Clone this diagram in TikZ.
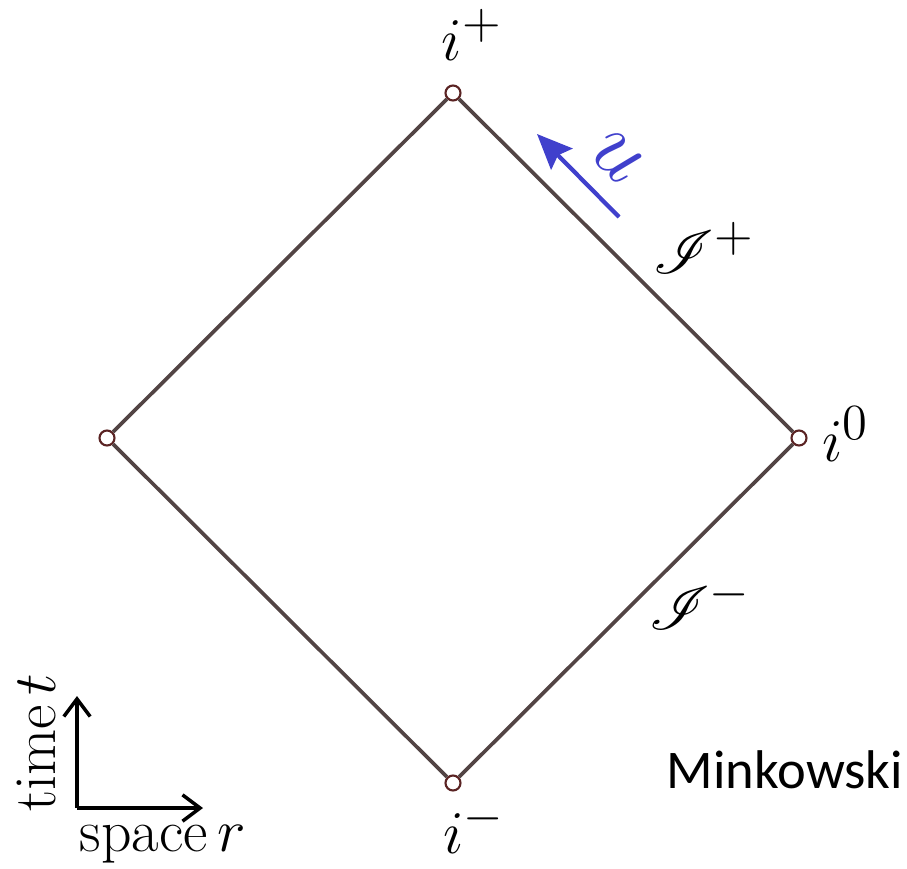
\documentclass[tikz,border=0pt]{standalone}
\usepackage{amsmath}
\usepackage{mathrsfs}
\usepackage{fontspec}
\newfontfamily\minkfont{Carlito}
\usepackage{xcolor}
\usepackage{tikz}
\usetikzlibrary{arrows.meta,positioning}
\definecolor{edgecol}{RGB}{82,68,68}
\definecolor{dotcol}{RGB}{90,35,35}
\definecolor{ucol}{RGB}{64,64,204}

\begin{document}
\begin{tikzpicture}[
  vert/.style={circle, draw=dotcol, fill=white, line width=0.6pt,
               inner sep=0pt, minimum size=0.15cm},
  edge/.style={draw=edgecol, line width=1.05pt},
  lbl/.style={font=\fontsize{19}{23}\selectfont, inner sep=0pt},
  axlbl/.style={font=\fontsize{17}{20}\selectfont, inner sep=0pt},
  axarr/.style={-{Straight Barb[length=5pt,width=7.5pt]}, line width=1pt},
  uarr/.style={-{Stealth[length=10pt,width=8.5pt,inset=1.5pt]}, ucol, line width=1.2pt}
]
\useasboundingbox (0,0) rectangle (9.07,8.68);
% vertices of the diagram
\node[vert] (top)   at (4.53,7.75) {};
\node[vert] (left)  at (1.07,4.30) {};
\node[vert] (right) at (7.99,4.30) {};
\node[vert] (bot)   at (4.53,0.85) {};
\draw[edge] (top)--(right);
\draw[edge] (right)--(bot);
\draw[edge] (bot)--(left);
\draw[edge] (left)--(top);
% labels
\node[lbl] (iplus)  at (4.72,8.33) {$i^+$};
\node[lbl] (izero)  at (8.46,4.34) {$i^0$};
\node[lbl] (iminus) at (4.74,0.40) {$i^-$};
\node[lbl] (scrip)  at (7.04,6.20) {$\mathscr{I}^+$};
\node[lbl] (scrim)  at (7.00,2.64) {$\mathscr{I}^-$};
% null direction u
\coordinate (ustart) at (6.19,6.51);
\coordinate (uend)   at (5.37,7.34);
\draw[uarr] (ustart)--(uend);
\node[lbl, font=\fontsize{25}{29}\selectfont, ucol, rotate=-45] (ulbl) at (6.17,7.11) {$u$};
% axes
\coordinate (orig) at (0.77,0.60);
\coordinate (tend) at (0.77,1.72);
\coordinate (rend) at (2.03,0.60);
\draw[axarr] (orig)--(tend);
\draw[axarr] (orig)--(rend);
\node[axlbl, rotate=90] (tlbl) at (0.36,1.25) {time\,$t$};
\node[axlbl] (rlbl) at (1.63,0.24) {space\,$r$};
\node[font=\minkfont\fontsize{15.5}{18}\selectfont, inner sep=0pt] (mink) at (7.85,0.98) {Minkowski};
\end{tikzpicture}
\end{document}
